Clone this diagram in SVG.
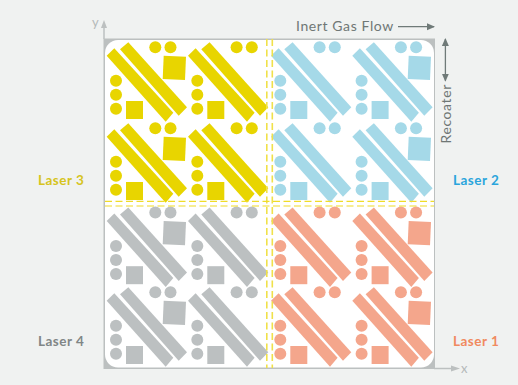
<svg xmlns="http://www.w3.org/2000/svg" width="518" height="385" viewBox="0 0 518 385">
<style>
.lbl{font-family:"Lato","Liberation Sans",sans-serif;font-size:13.5px;font-weight:700;letter-spacing:.5px}
.note{font-family:"Lato","Liberation Sans",sans-serif;font-size:14px;fill:#6f7775;letter-spacing:.6px}
.axt{font-family:"Lato","Liberation Sans",sans-serif;font-size:13px;fill:#b4b9b9}
.ax{stroke:#bcc0c0;stroke-width:1.5;fill:none}
.ar{stroke:#6f7a78;stroke-width:1.3;fill:none}
.ds{stroke:#f0e14a;fill:none;stroke-width:1.6;stroke-dasharray:7 3.5}
.dh{stroke:#efdc28;fill:none;stroke-width:1.2;stroke-dasharray:7 3.5}
</style>
<defs>
<marker id="mg" markerWidth="8" markerHeight="8" refX="7" refY="4" orient="auto-start-reverse" markerUnits="userSpaceOnUse"><path d="M0 .5L8 4L0 7.5z" fill="#6f7a78"/></marker>
<g id="cell">
<polygon points="106.7,55.7 114.3,48.3 173.3,112.7 165.7,121.7"/>
<polygon points="120,49.3 128.3,42.3 187,107.3 178.7,115.7"/>
<circle cx="155.3" cy="47.3" r="6"/><circle cx="170.5" cy="47.3" r="6"/>
<circle cx="116" cy="80.7" r="6"/><circle cx="116" cy="94.7" r="6"/><circle cx="116" cy="108.7" r="6"/>
<rect x="126" y="101" width="17" height="18"/>
</g>
<polygon id="big" points="163.7,55.7 186,56.7 185,80 162.7,79"/>
</defs>
<rect width="518" height="385" fill="#f0f2f1"/>
<g id="plate">
<rect x="103.5" y="38.5" width="331.5" height="330.5" fill="#bcc0c0"/>
<rect x="105" y="40" width="329" height="327.5" rx="13" fill="#fff"/>
</g>
<g id="laser3-field" fill="#e8d500">
<use href="#cell"/><use href="#big"/>
<use href="#cell" x="81.3"/>
<use href="#cell" y="81"/><use href="#big" y="81"/>
<use href="#cell" x="81.3" y="81"/>
</g>
<g id="laser2-field" fill="#a5d9e8">
<use href="#cell" x="164.3"/>
<use href="#cell" x="245.6"/><use href="#big" x="245"/>
<use href="#cell" x="164.3" y="81"/>
<use href="#cell" x="245.6" y="81"/><use href="#big" x="245" y="81"/>
</g>
<g id="laser4-field" fill="#bcc0c1">
<use href="#cell" y="165.2"/><use href="#big" y="165.2"/>
<use href="#cell" x="81.3" y="165.2"/>
<use href="#cell" y="245"/><use href="#big" y="245"/>
<use href="#cell" x="81.3" y="245"/>
</g>
<g id="laser1-field" fill="#f4a68c">
<use href="#cell" x="164.3" y="165.2"/>
<use href="#cell" x="245.6" y="165.2"/><use href="#big" x="245" y="165.2"/>
<use href="#cell" x="164.3" y="245"/>
<use href="#cell" x="245.6" y="245"/><use href="#big" x="245" y="245"/>
</g>
<g id="connectors">
<path class="ds" d="M266.8 39V368M272.3 39V368"/>
<path class="dh" d="M105 201.3H434M105 206H434"/>
<path class="ax" d="M104 39V26"/>
<polygon points="104,20 107,28 101,28" fill="#bcc0c0"/>
<path class="ax" d="M434 368.5H452"/>
<polygon points="460,368.5 451,365.5 451,371.5" fill="#bcc0c0"/>
<path class="ar" d="M398 26.7H434" marker-end="url(#mg)"/>
<path class="ar" d="M445.4 39V80.7" marker-start="url(#mg)" marker-end="url(#mg)"/>
</g>
<g id="labels">
<text class="axt" x="92" y="27">y</text>
<text class="axt" x="461" y="373">x</text>
<text class="note" x="296" y="31">Inert Gas Flow</text>
<text class="note" transform="translate(451 143.5) rotate(-90)">Recoater</text>
<text class="lbl" x="38" y="185" fill="#d6c420">Laser 3</text>
<text class="lbl" x="453" y="185" fill="#2aa5dc">Laser 2</text>
<text class="lbl" x="38" y="346" fill="#808686">Laser 4</text>
<text class="lbl" x="453" y="346" fill="#f08a60">Laser 1</text>
</g>
</svg>
